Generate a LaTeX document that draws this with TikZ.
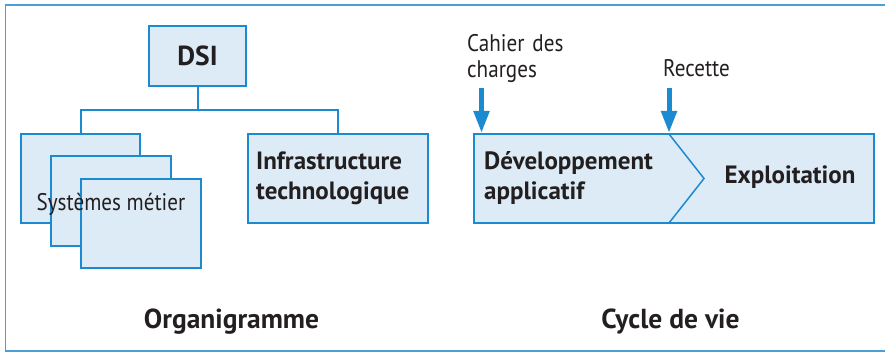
\documentclass[tikz,border=0pt]{standalone}
\usepackage{fontspec}
\setmainfont{PT Sans}
\newfontfamily\narrowfont[FakeStretch=0.88]{PT Sans}
\usetikzlibrary{arrows.meta}
\definecolor{edge}{HTML}{1B8AD0}
\definecolor{boxfill}{HTML}{DDEBF6}
\definecolor{ink}{HTML}{231F20}
\definecolor{framec}{HTML}{4A9FD6}
\begin{document}
\begin{tikzpicture}[x=1pt,y=-1pt,
  box/.style={draw=edge,fill=boxfill,line width=1.5pt,inner sep=0pt,rectangle},
  conn/.style={draw=edge,line width=2pt},
  bigarrow/.style={draw=edge,line width=5pt,-{Triangle[width=15pt,length=22pt]}},
  boldtxt/.style={text=ink,font=\fontsize{25}{30}\selectfont\bfseries,inner sep=0pt},
  regtxt/.style={text=ink,font=\narrowfont\fontsize{24}{26}\selectfont,inner sep=0pt},
  titletxt/.style={text=ink,font=\fontsize{27.5}{32}\selectfont\bfseries,inner sep=0pt}]
\useasboundingbox (0,0) rectangle (885,352);
\draw[draw=framec,line width=1.5pt] (885,5) -- (5.5,5) -- (5.5,351) -- (885,351);
% Organigramme
\node[box,minimum width=97pt,minimum height=60pt,titletxt] (dsi) at (197.5,56) {DSI};
\node[box,minimum width=119pt,minimum height=89pt] (sys1) at (80.5,178.5) {};
\node[box,minimum width=120pt,minimum height=90pt] (sys2) at (111,201) {};
\node[box,minimum width=120pt,minimum height=89pt] (sys3) at (141,223.5) {};
\node[regtxt,anchor=base] (systxt) at (111,211) {Systèmes métier};
\node[box,minimum width=180pt,minimum height=89pt] (infra) at (338,178.5) {};
\node[boldtxt,anchor=base west,align=left,text width=170pt] (infratxt) at (256,170) {Infrastructure\\technologique};
\coordinate (junc) at (197.5,110);
\draw[conn] (dsi.south) -- (junc);
\draw[conn] (sys1.north) -- (sys1.north |- junc) -- (infra.north |- junc) -- (infra.north);
\node[titletxt,anchor=base] (org) at (231.5,328) {Organigramme};
% Cycle de vie
\node[box,minimum width=400pt,minimum height=89pt] (cycle) at (674,178.5) {};
\coordinate (chevtop) at (669,134);
\coordinate (chevtip) at (704,178.5);
\coordinate (chevbot) at (669,223);
\draw[draw=edge,line width=1.5pt] (chevtop) -- (chevtip) -- (chevbot);
\node[boldtxt,anchor=base west,align=left,text width=180pt] (devtxt) at (484,170) {Développement\\applicatif};
\node[boldtxt,anchor=base] (exptxt) at (790,184) {Exploitation};
\node[regtxt,anchor=base west,align=left,text width=120pt] (cahier) at (467,52) {Cahier des\\charges};
\node[regtxt,anchor=base west] (recette) at (663,77) {Recette};
\coordinate (a1s) at (481.5,88);
\coordinate (a1e) at (481.5,133);
\coordinate (a2s) at (669,88);
\coordinate (a2e) at (669,133);
\draw[bigarrow] (a1s) -- (a1e);
\draw[bigarrow] (a2s) -- (a2e);
\node[titletxt,anchor=base] (cyc) at (670.5,328) {Cycle de vie};
\end{tikzpicture}
\end{document}
